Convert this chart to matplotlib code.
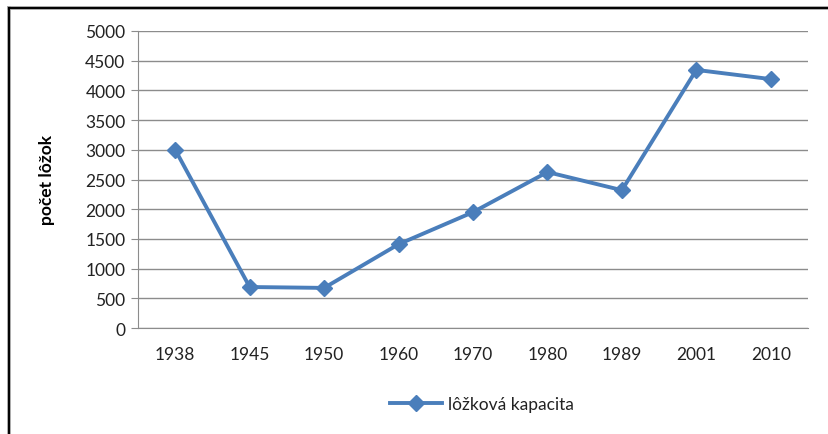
import matplotlib.pyplot as plt
from matplotlib.lines import Line2D

# data
roky = ['1938', '1945', '1950', '1960', '1970', '1980', '1989', '2001', '2010']
lozka = [3000, 690, 675, 1410, 1950, 2625, 2320, 4345, 4190]

plt.rcParams['font.family'] = ['Lato', 'DejaVu Sans']

W, H = 829, 435
fig = plt.figure(figsize=(W / 100, H / 100), dpi=100)
ax = fig.add_axes([138 / W, 1 - 329 / H, (808 - 138) / W, (329 - 32) / H])

x = range(len(roky))
ax.plot(x, lozka, color='#4a7ebb', lw=2.8, marker='D', ms=8.5,
        label='lôžková kapacita')

ax.set_xlim(-0.5, len(roky) - 0.5)
ax.set_ylim(0, 5000)
ax.set_yticks(range(0, 5001, 500))
ax.set_xticks(list(x))
ax.set_xticklabels(roky)
ax.yaxis.grid(True, color='#8c8c8c', lw=1)
ax.set_axisbelow(True)

for s in ['top', 'right']:
    ax.spines[s].set_visible(False)
ax.spines['left'].set_color('#8c8c8c')
ax.spines['bottom'].set_color('#8c8c8c')
ax.tick_params(axis='y', length=5, color='#8c8c8c', labelsize=12.5, pad=4,
               labelcolor='#222222')
ax.tick_params(axis='x', length=0, labelsize=12.5, pad=13, labelcolor='#222222')

ax.set_ylabel('počet lôžok', fontsize=12.5, fontweight='bold', labelpad=22)

ax.legend(loc='center', bbox_to_anchor=(482 / W, 1 - 405 / H),
          bbox_transform=fig.transFigure, frameon=False, fontsize=12.5,
          handlelength=3, handletextpad=0.3, labelcolor='#222222')

# okraj grafu (orezany)
fig.add_artist(Line2D([9 / W, 1], [1 - 9 / H, 1 - 9 / H], color='#999999', lw=2.6))
fig.add_artist(Line2D([9 / W, 9 / W], [0, 1 - 9 / H], color='#999999', lw=2.6))
fig.add_artist(Line2D([9 / W, 1], [1 - 9 / H, 1 - 9 / H], color='black', lw=1.4))
fig.add_artist(Line2D([9 / W, 9 / W], [0, 1 - 9 / H], color='black', lw=1.4))

fig.savefig('out.png', dpi=100)
